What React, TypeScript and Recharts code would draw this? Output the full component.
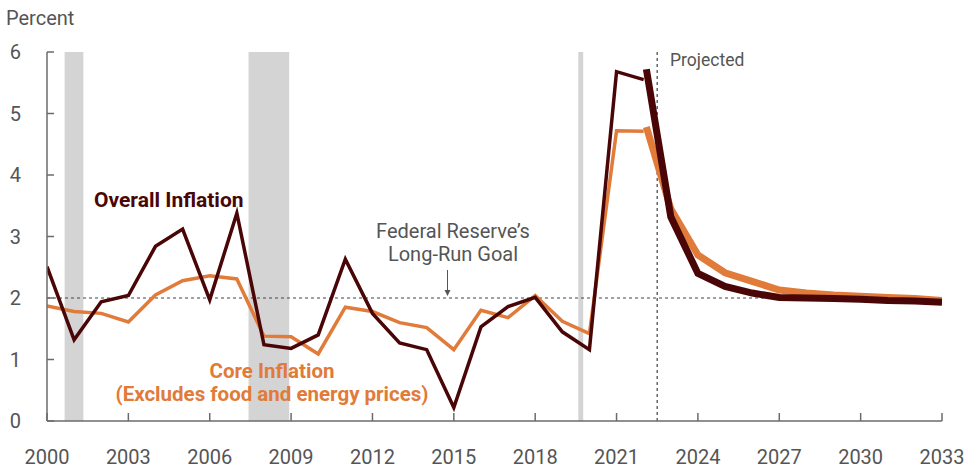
import { LineChart, Line, XAxis, YAxis, ReferenceLine, ReferenceArea } from "recharts";

// Historical annual values (percent)
const histYears = [2000, 2001, 2002, 2003, 2004, 2005, 2006, 2007, 2008, 2009, 2010, 2011, 2012, 2013, 2014, 2015, 2016, 2017, 2018, 2019, 2020, 2021, 2022];
const histOverall = [2.51, 1.32, 1.94, 2.04, 2.84, 3.12, 1.97, 3.38, 1.24, 1.18, 1.4, 2.63, 1.75, 1.27, 1.16, 0.22, 1.53, 1.86, 2.01, 1.45, 1.16, 5.68, 5.55];
const histCore = [1.87, 1.78, 1.75, 1.61, 2.05, 2.28, 2.36, 2.31, 1.38, 1.37, 1.09, 1.85, 1.78, 1.6, 1.52, 1.16, 1.8, 1.68, 2.04, 1.62, 1.42, 4.72, 4.71];

// Projected values
const projYears = [2022.1, 2023, 2024, 2025, 2026, 2027, 2028, 2029, 2030, 2031, 2032, 2033];
const projOverall = [5.72, 3.32, 2.4, 2.19, 2.08, 2.01, 2.0, 1.99, 1.98, 1.96, 1.95, 1.93];
const projCore = [4.78, 3.45, 2.7, 2.41, 2.27, 2.13, 2.08, 2.05, 2.03, 2.01, 1.99, 1.96];

const xTicks = [2000, 2003, 2006, 2009, 2012, 2015, 2018, 2021, 2024, 2027, 2030, 2033];
const yTicks = [0, 1, 2, 3, 4, 5, 6];

// Recession periods (as plotted)
const recessions = [
  [2000.65, 2001.34],
  [2007.43, 2008.93],
  [2019.59, 2019.77],
];

const projectionStart = 2022.5;
const goal = 2;

const MAROON = "#4a0606";
const ORANGE = "#e07b39";
const AXIS = "#6b6b6b";
const TEXT = "#555";
const FONT = "Roboto, 'Noto Sans', sans-serif";

const histData = histYears.map((year, i) => ({ year, overall: histOverall[i], core: histCore[i] }));
const projData = projYears.map((year, i) => ({ year, overall: projOverall[i], core: projCore[i] }));

function YTick({ x, y, payload }: any) {
  return (
    <g>
      <line x1={x} x2={x + 7} y1={y} y2={y} stroke={AXIS} strokeWidth={1.5} />
      <text x={x - 26} y={y} dy={7} textAnchor="end" fill={TEXT} fontSize={20} fontFamily={FONT}>
        {payload.value}
      </text>
    </g>
  );
}

function XTick({ x, y, payload }: any) {
  return (
    <g>
      <line x1={x} x2={x} y1={y} y2={y - 8} stroke={AXIS} strokeWidth={1.5} />
      <text x={x} y={y + 43} textAnchor="middle" fill={TEXT} fontSize={20} fontFamily={FONT}>
        {payload.value}
      </text>
    </g>
  );
}

export default function App() {
  return (
    <div style={{ position: "absolute", left: 0, top: 0, width: 966, height: 471, background: "#fff" }}>
      <LineChart width={966} height={471} margin={{ top: 52, right: 24, bottom: 20, left: 0 }}>
        {recessions.map(([a, b], i) => (
          <ReferenceArea key={i} x1={a} x2={b} y1={0} y2={6} fill="#d4d4d4" fillOpacity={1} stroke="none" />
        ))}
        <XAxis
          dataKey="year"
          type="number"
          domain={[2000, 2033]}
          ticks={xTicks}
          allowDataOverflow
          height={30}
          tickSize={0}
          tickMargin={0}
          tickLine={false}
          stroke={AXIS}
          strokeWidth={1.5}
          tick={<XTick />}
          interval={0}
        />
        <YAxis
          type="number"
          domain={[0, 6]}
          ticks={yTicks}
          width={47}
          tickSize={0}
          tickMargin={0}
          tickLine={false}
          stroke={AXIS}
          strokeWidth={1.5}
          tick={<YTick />}
          interval={0}
        />
        <ReferenceLine y={goal} stroke="#444" strokeDasharray="3 3" strokeWidth={1} />
        <ReferenceLine x={projectionStart} stroke="#666" strokeDasharray="3 3" strokeWidth={1.5} />
        <Line data={histData} dataKey="core" stroke={ORANGE} strokeWidth={3.5} dot={false} isAnimationActive={false} strokeLinejoin="miter" />
        <Line data={projData} dataKey="core" stroke={ORANGE} strokeWidth={7} dot={false} isAnimationActive={false} strokeLinejoin="miter" />
        <Line data={histData} dataKey="overall" stroke={MAROON} strokeWidth={3.5} dot={false} isAnimationActive={false} strokeLinejoin="miter" />
        <Line data={projData} dataKey="overall" stroke={MAROON} strokeWidth={7} dot={false} isAnimationActive={false} strokeLinejoin="miter" />
      </LineChart>
      <svg width={966} height={471} style={{ position: "absolute", left: 0, top: 0, pointerEvents: "none" }}>
        <text x={6} y={25} fontSize={20} fill={TEXT} fontFamily={FONT}>Percent</text>
        <text x={670} y={66} fontSize={17.5} fill={TEXT} fontFamily={FONT}>Projected</text>
        <text x={94} y={207} fontSize={21} fontWeight="bold" fill={MAROON} fontFamily={FONT}>Overall Inflation</text>
        <text x={272} y={378} fontSize={20.5} fontWeight="bold" fill={ORANGE} fontFamily={FONT} textAnchor="middle">Core Inflation</text>
        <text x={272} y={401} fontSize={20.5} fontWeight="bold" fill={ORANGE} fontFamily={FONT} textAnchor="middle">(Excludes food and energy prices)</text>
        <text x={453} y={238} fontSize={20} fill={TEXT} fontFamily={FONT} textAnchor="middle">Federal Reserve’s</text>
        <text x={453} y={261} fontSize={20} fill={TEXT} fontFamily={FONT} textAnchor="middle">Long-Run Goal</text>
        <line x1={447.5} x2={447.5} y1={270} y2={293} stroke="#555" strokeWidth={1} />
        <path d="M444.5,290 L447.5,296 L450.5,290 Z" fill="#555" />
      </svg>
    </div>
  );
}
